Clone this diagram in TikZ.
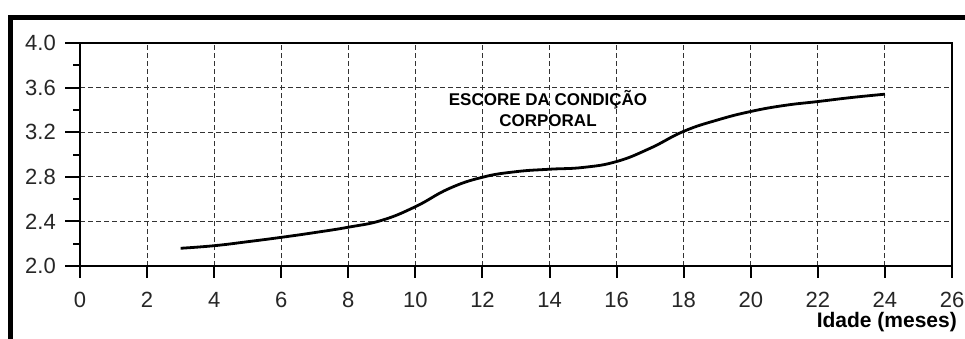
\documentclass[tikz,border=0pt]{standalone}
\usepackage{fontspec}
\setmainfont{Liberation Sans}
\begin{document}
\begin{tikzpicture}[x=1pt,y=1pt,
  frameline/.style={line width=5pt,line join=miter},
  axisline/.style={line width=2pt},
  gridline/.style={line width=1pt,dash pattern=on 5pt off 3pt,color=black!80},
  ticklab/.style={font=\fontsize{22}{24}\selectfont,text=black!85,inner sep=0pt},
  curveline/.style={line width=2.8pt,line join=round}
]
\useasboundingbox (0,0) rectangle (965,338);
\fill[white] (0,0) rectangle (965,338);
\draw[frameline] (10.5,-3) -- (10.5,320.5) -- (968,320.5);
\begin{scope}[shift={(80,72)}, x=33.54pt, y=111.5pt]
  % grid
  \foreach \i in {2,4,...,24} \draw[gridline] (\i,0) -- (\i,2);
  \foreach \v in {0.4,0.8,1.2,1.6} \draw[gridline] (0,\v) -- (26,\v);
  % box
  \draw[axisline] (0,0) rectangle (26,2);
  % x ticks and labels
  \foreach \i in {0,2,...,26} {
    \draw[axisline] (\i,0) -- ++(0,-12pt);
    \node[ticklab,anchor=base] (xl-\i) at (\i,-41pt) {\i};
  }
  % y ticks and labels
  \foreach \v/\t in {0/2.0,0.4/2.4,0.8/2.8,1.2/3.2,1.6/3.6,2/4.0} {
    \draw[axisline] (0,\v) -- ++(-15pt,0);
    \node[ticklab,anchor=east] (yl-\t) at (-24pt,\v) {\t};
  }
  \foreach \v in {0.2,0.6,1.0,1.4,1.8}
    \draw[axisline] (0,\v) -- ++(-7pt,0);
  % curve
  \draw[curveline] plot[smooth,tension=0.75] coordinates {
    (3,0.159) (4,0.182) (5,0.218) (6,0.257) (7,0.300) (8,0.348) (9,0.410)
    (10,0.532) (11,0.694) (12,0.796) (13,0.846) (14,0.868) (15,0.884)
    (16,0.937) (17,1.056) (18,1.208) (19,1.309) (20,1.386) (21,1.440)
    (22,1.475) (23,1.511) (24,1.541)};
\end{scope}
\node[font=\bfseries\fontsize{17}{21}\selectfont,align=center,anchor=base,inner sep=0pt]
  (title) at (548,212) {ESCORE DA CONDIÇÃO\\CORPORAL};
\node[font=\bfseries\fontsize{21}{24}\selectfont,anchor=base east,inner sep=0pt]
  (xlabel) at (957,11) {Idade (meses)};
\end{tikzpicture}
\end{document}
